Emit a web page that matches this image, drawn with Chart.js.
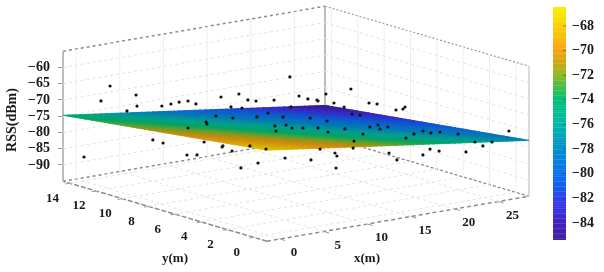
<!DOCTYPE html>
<html>
<head>
<meta charset="utf-8">
<script src="https://cdn.jsdelivr.net/npm/chart.js@4/dist/chart.umd.js"></script>
<style>
  html, body { margin: 0; padding: 0; background: #fff; }
  #wrap { width: 604px; height: 272px; }
  canvas { filter: blur(0.55px); }
</style>
</head>
<body>
<div id="wrap"><canvas id="rssChart"></canvas></div>
<script>
// --------------------
// DATA
// --------------------
const xTicks = [0, 5, 10, 15, 20, 25];
const yTicks = [0, 2, 4, 6, 8, 10, 12, 14];
const rssTicks = [-90, -85, -80, -75, -70, -65, -60];
const colorTicks = [-84, -82, -80, -78, -76, -74, -72, -70, -68];

// fitted surface, read along its two near edges
const gridX = [-1.5, -0.9, -0.3, 0.3, 0.9, 1.5, 2.1, 2.7, 3.3, 3.9, 4.5, 5.1, 5.7, 6.3, 6.9, 7.5, 8.1, 8.7, 9.3, 9.9, 10.5, 11.1, 11.7, 12.3, 12.9, 13.5, 14.1, 14.7, 15.3, 15.9, 16.5, 17.1, 17.7, 18.3, 18.9, 19.5, 20.1, 20.7, 21.3, 21.9, 22.5, 23.1, 23.7, 24.3, 24.9, 25.5, 26.1, 26.7, 27.3, 27.9, 28.5];
const gridY = [-1, -0.69, -0.38, -0.07, 0.24, 0.55, 0.86, 1.17, 1.48, 1.79, 2.1, 2.41, 2.72, 3.03, 3.34, 3.65, 3.96, 4.27, 4.58, 4.89, 5.2, 5.51, 5.82, 6.13, 6.44, 6.75, 7.06, 7.37, 7.68, 7.99, 8.3, 8.61, 8.92, 9.23, 9.54, 9.85, 10.16, 10.47, 10.78, 11.09, 11.4, 11.71, 12.02, 12.33, 12.64, 12.95, 13.26, 13.57, 13.88, 14.19, 14.5];
const rssAlongX = [-67, -67.22, -67.43, -67.65, -67.86, -68.08, -68.3, -68.51, -68.73, -68.94, -69.16, -69.38, -69.59, -69.81, -70.02, -70.24, -70.46, -70.67, -70.89, -71.1, -71.32, -71.54, -71.75, -71.97, -72.18, -72.4, -72.62, -72.83, -73.05, -73.26, -73.48, -73.7, -73.91, -74.13, -74.34, -74.56, -74.78, -74.99, -75.21, -75.42, -75.64, -75.86, -76.07, -76.29, -76.5, -76.72, -76.94, -77.15, -77.37, -77.58, -77.8];
const rssAlongY = [-67, -67.15, -67.31, -67.46, -67.62, -67.77, -67.92, -68.08, -68.23, -68.39, -68.54, -68.69, -68.85, -69, -69.16, -69.31, -69.46, -69.62, -69.77, -69.93, -70.08, -70.23, -70.39, -70.54, -70.7, -70.85, -71, -71.16, -71.31, -71.47, -71.62, -71.77, -71.93, -72.08, -72.24, -72.39, -72.54, -72.7, -72.85, -73.01, -73.16, -73.31, -73.47, -73.62, -73.78, -73.93, -74.08, -74.24, -74.39, -74.55, -74.7];

// measured points
const pointX = [0.95, -1.1, 5.25, 3.2, 0.63, 7.5, 5.45, 3.34, 9.18, 7.06, 6.04, 11.95, 9.83, 7.39, 13.04, 10.93, 9.45, 15.74, 13.18, 11.06, 16.9, 14.85, 12.29, 18.06, 15.95, 13.96, 19.67, 18.2, 16.09, 22.57, 20.39, 17.89, 27.21,
  6.55, 5.08, 10.4, 8.35, 6.81, 13.62, 11.7, 10.03, 14.78, 12.86, 9.58, 15.87, 13.95, 11.77, 17.55, 15.5, 12.93, 19.29, 17.11, 14.99, 20.89, 18.78, 16.28, 22.05, 17.81, 14.6, 23.73, 20.58, 19.05, 24.82, 22.77, 21.3,
  6.92, 4.94, 4.95, 11.43, 8.74, 6.75, 13.17, 11.57, 3.85, 9.76, -0.15, 10.16, 12.59, 11.05, 12.42, 18.64, 16.14, 14.54, 17.1, 16.08, 16.86, 22.63, 22.13, 20.08, 24.31, 24.45, 28.17, 26.12, 25.02];
const pointY = [13.24, 11.19, 14.12, 12.07, 10.29, 12.96, 10.91, 8.89, 12.09, 10.08, 7.5, 10.66, 8.65, 6.8, 10.1, 8.08, 5.73, 8.7, 6.92, 4.9, 8.1, 6.05, 4.27, 7.5, 5.49, 3.4, 6.67, 4.32, 2.31, 5.17, 3.19, 1.38, -0.33,
  10.34, 7.99, 11.46, 9.41, 7.1, 9.8, 7.68, 5.43, 9.2, 7.08, 5.67, 8.63, 6.52, 4.53, 7.77, 5.72, 3.94, 6.87, 4.89, 2.87, 6.04, 4.02, 2.21, 5.44, 4.52, 3.07, 4.58, 3.09, 0.78, 4.01, 1.96, -0.39,
  13.26, 11.17, 8.06, 10.93, 9.21, 7.13, 10.03, 7.75, 8.63, 11.79, 13.8, 5.37, 10.33, 8.01, 4.2, 7.2, 5.39, 3.1, 8, 5.42, 1.91, 5.14, 2.29, 0.24, 4.28, 1.1, 2.28, 0.23, 0.8];
const pointRss = [-69.93, -61.93, -76.04, -67.74, -67.83, -74.16, -70.16, -66.18, -72.36, -69.91, -64.22, -73.78, -66.41, -67.4, -71.46, -68.4, -64.62, -63.96, -69.89, -63.14, -70.55, -67.48, -64.49, -68.84, -68.24, -66.08, -67.06, -67.89, -64.83, -73.07, -69.4, -65.47, -75.12,
  -77.38, -72.06, -79.25, -73.41, -70.56, -76.6, -71.97, -69.76, -79.19, -75.48, -74.14, -79.64, -76.24, -69.8, -79.38, -73.85, -73.93, -79.42, -71.45, -68.39, -78.56, -74.57, -72.49, -78.38, -77.49, -76.45, -80.27, -78.29, -72.68, -79.8, -76.12, -73.26,
  -84.71, -82.24, -78.23, -85.86, -82.89, -80.73, -85.59, -83.07, -82.4, -88.88, -87.33, -82.36, -92.45, -87.45, -79.25, -86.91, -84.52, -78.61, -89.29, -88.22, -79.79, -88.44, -81.45, -78.68, -86.65, -82.01, -83.28, -78.67, -78.84];

// colour map of the colour bar
const colorStops = [-85.5, -84, -83, -82, -81, -80, -79, -78, -76, -75, -74, -73, -72, -71, -70, -68, -66.5];
const colorValues = ["#40209c", "#4022c0", "#4030e0", "#3040f0", "#1060f0", "#0a70f0", "#0a80e0", "#0090d0", "#00b8a8", "#00bf90", "#00c070", "#40c050", "#90b820", "#d0a810", "#f9a30f", "#fcd200", "#f8f000"];

// --------------------
// 3D BOX AND PROJECTION
// --------------------
const xMin = -1.5, xMax = 28.5;
const yMin = -1, yMax = 14.5;
const rssMin = -95, rssMax = -55;
const colorMin = -85.45, colorMax = -66.45;

// oblique view: horizontal position and height (in dBm) on the flat chart
function project(x, y, rss) {
  const u = yMax - y;
  const w = x - xMin;
  return {
    x: 63 + 13.16 * u + 8.733 * w,
    y: rss + 0.4615 * w - 1.191 * u
  };
}

function hexToRgb(hex) {
  return [1, 3, 5].map(i => parseInt(hex.slice(i, i + 2), 16));
}

function colorFor(rss) {
  if (rss <= colorStops[0]) return colorValues[0];
  for (let i = 1; i < colorStops.length; i++) {
    if (rss <= colorStops[i]) {
      const f = (rss - colorStops[i - 1]) / (colorStops[i] - colorStops[i - 1]);
      const a = hexToRgb(colorValues[i - 1]);
      const b = hexToRgb(colorValues[i]);
      const c = a.map((v, k) => Math.round(v + (b[k] - v) * f));
      return `rgb(${c[0]},${c[1]},${c[2]})`;
    }
  }
  return colorValues[colorValues.length - 1];
}

// --------------------
// DATASETS
// --------------------
const datasets = [];

function addLine(from, to, color, width, dash) {
  datasets.push({
    type: "scatter",
    data: [project(...from), project(...to)],
    showLine: true,
    borderColor: color,
    borderWidth: width,
    borderDash: dash || [],
    pointRadius: 0,
    clip: false,
    order: 3
  });
}

// points on top
datasets.push({
  type: "scatter",
  data: pointX.map((x, i) => project(x, pointY[i], pointRss[i])),
  backgroundColor: "#111",
  borderColor: "#111",
  pointRadius: 1.6,
  borderWidth: 0,
  clip: false,
  order: 0
});

// surface cells
const rssAt = (a, b) => rssAlongX[a] + rssAlongY[b] - rssAlongY[0];

for (let j = 0; j < gridY.length - 1; j++) {
  for (let i = 0; i < gridX.length - 1; i++) {
    const mean = (rssAt(i, j) + rssAt(i + 1, j) + rssAt(i, j + 1) + rssAt(i + 1, j + 1)) / 4;
    const corner1 = project(gridX[i], gridY[j], rssAt(i, j));
    const cellColor = colorFor(mean);
    datasets.push({
      type: "scatter",
      data: [
        corner1,
        project(gridX[i + 1], gridY[j], rssAt(i + 1, j)),
        project(gridX[i + 1], gridY[j + 1], rssAt(i + 1, j + 1)),
        project(gridX[i], gridY[j + 1], rssAt(i, j + 1)),
        corner1
      ],
      showLine: true,
      fill: "shape",
      backgroundColor: cellColor,
      borderColor: cellColor,
      borderWidth: 0.8,
      pointRadius: 0,
      clip: false,
      order: 2
    });
  }
}

// surface mesh
const meshColor = "rgba(20,20,40,0.15)";
gridX.forEach((x, i) => {
  datasets.push({
    type: "scatter",
    data: gridY.map((y, j) => project(x, y, rssAt(i, j))),
    showLine: true,
    borderColor: meshColor,
    borderWidth: 0.6,
    pointRadius: 0,
    clip: false,
    order: 1
  });
});
gridY.forEach((y, j) => {
  datasets.push({
    type: "scatter",
    data: gridX.map((x, i) => project(x, y, rssAt(i, j))),
    showLine: true,
    borderColor: meshColor,
    borderWidth: 0.6,
    pointRadius: 0,
    clip: false,
    order: 1
  });
});

// colour bar
for (let v = colorMin; v < colorMax; v += 0.2) {
  const top = Math.min(v + 0.22, colorMax);
  datasets.push({
    type: "scatter",
    yAxisID: "yColor",
    data: [{ x: 553, y: v }, { x: 566, y: v }, { x: 566, y: top }, { x: 553, y: top }],
    showLine: true,
    fill: "shape",
    backgroundColor: colorFor(v + 0.1),
    borderWidth: 0,
    pointRadius: 0,
    clip: false,
    order: 2
  });
}
colorTicks.forEach(v => {
  datasets.push({
    type: "scatter",
    yAxisID: "yColor",
    data: [{ x: 563, y: v }, { x: 566, y: v }],
    showLine: true,
    borderColor: "rgba(60,60,60,0.6)",
    borderWidth: 1,
    pointRadius: 0,
    clip: false,
    order: 1
  });
});

// walls and floor grid
const gridSolid = "#eeeeee";
const gridDash = "#e2e2e2";
xTicks.forEach(x => {
  addLine([x, yMax, rssMin], [x, yMax, rssMax], gridSolid, 1);
  addLine([x, yMin, rssMin], [x, yMax, rssMin], gridDash, 1, [3, 3]);
  addLine([x, yMin, rssMin], [x, yMin - 0.4, rssMin], "#999", 1);
});
yTicks.forEach(y => {
  addLine([xMax, y, rssMin], [xMax, y, rssMax], gridSolid, 1);
  addLine([xMin, y, rssMin], [xMax, y, rssMin], gridDash, 1, [3, 3]);
  addLine([xMin, y, rssMin], [xMin - 0.5, y, rssMin], "#999", 1);
});
rssTicks.forEach(z => {
  addLine([xMin, yMax, z], [xMax, yMax, z], gridDash, 1, [3, 3]);
  addLine([xMax, yMax, z], [xMax, yMin, z], gridDash, 1, [3, 3]);
});

// box edges
addLine([xMin, yMax, rssMin], [xMin, yMax, rssMax], "#bdbdbd", 2);
addLine([xMax, yMax, rssMin], [xMax, yMax, rssMax], "#bdbdbd", 2);
addLine([xMax, yMin, rssMin], [xMax, yMin, rssMax], "#cfcfcf", 1.5);
addLine([xMin, yMax, rssMax], [xMax, yMax, rssMax], "#8c8c8c", 1.5, [3, 3]);
addLine([xMax, yMax, rssMax], [xMax, yMin, rssMax], "#999", 1.2, [2, 2]);
addLine([xMin, yMax, rssMin], [xMax, yMax, rssMin], "#8c8c8c", 1.5, [3, 3]);
addLine([xMax, yMax, rssMin], [xMax, yMin, rssMin], "#8c8c8c", 1.3, [3, 2]);
addLine([xMin, yMin, rssMin], [xMin, yMax, rssMin], "#8c8c8c", 1.5, [5, 2]);
addLine([xMin, yMin, rssMin], [xMax, yMin, rssMin], "#8c8c8c", 1.5, [4, 3]);

// --------------------
// AXIS LABELS ON THE FLOOR
// --------------------
const labelFont = 'bold 13px "Liberation Serif"';

const floorLabels = {
  id: "floorLabels",
  afterDraw(chart) {
    const { ctx, scales } = chart;
    const put = (text, p, dx, dy) => {
      ctx.fillText(text, scales.x.getPixelForValue(p.x) + dx, scales.y.getPixelForValue(p.y) + dy);
    };
    ctx.save();
    ctx.font = labelFont;
    ctx.fillStyle = "#1a1a1a";
    ctx.textAlign = "center";
    ctx.textBaseline = "middle";
    xTicks.forEach(x => put(String(x), project(x, yMin, rssMin), 14, 14));
    yTicks.forEach(y => put(String(y), project(xMin, y, rssMin), -17, 15));
    ctx.fillText("x(m)", 367, 259);
    ctx.fillText("y(m)", 175, 259);
    ctx.restore();
  }
};

// --------------------
// CHART
// --------------------
const minusLabel = v => String(v).replace("-", "\u2212");

new Chart(document.getElementById("rssChart"), {
  type: "scatter",
  data: { datasets: datasets },
  plugins: [floorLabels],
  options: {
    responsive: true,
    maintainAspectRatio: false,
    animation: false,
    events: [],
    layout: { autoPadding: false, padding: { top: 0, left: 0, right: 0, bottom: 32 } },
    plugins: { legend: { display: false }, tooltip: { enabled: false } },
    scales: {
      x: { type: "linear", display: false, min: 63, max: 566 },
      y: {
        type: "linear",
        position: "left",
        min: -113.08,
        max: -39.23,
        afterBuildTicks: s => { s.ticks = rssTicks.map(v => ({ value: v })); },
        afterFit: s => { s.width = 63; s.paddingTop = 0; s.paddingBottom = 0; },
        border: { display: false },
        grid: { drawOnChartArea: false, drawTicks: true, tickLength: 5, color: "#999" },
        ticks: {
          autoSkip: false,
          padding: 8,
          color: "#1a1a1a",
          font: { family: "Liberation Serif", size: 14, weight: "bold" },
          callback: minusLabel
        },
        title: {
          display: true,
          text: "RSS(dBm)",
          color: "#1a1a1a",
          padding: { top: 4, bottom: 0 },
          font: { family: "Liberation Serif", size: 14, weight: "bold" }
        }
      },
      yColor: {
        type: "linear",
        position: "right",
        min: -85.38,
        max: -65.89,
        afterBuildTicks: s => { s.ticks = colorTicks.map(v => ({ value: v })); },
        afterFit: s => { s.width = 38; s.paddingTop = 0; s.paddingBottom = 0; },
        border: { display: false },
        grid: { display: false, drawTicks: false },
        ticks: {
          autoSkip: false,
          padding: 6,
          color: "#1a1a1a",
          font: { family: "Liberation Serif", size: 14, weight: "bold" },
          callback: minusLabel
        }
      }
    }
  }
});
</script>
</body>
</html>
